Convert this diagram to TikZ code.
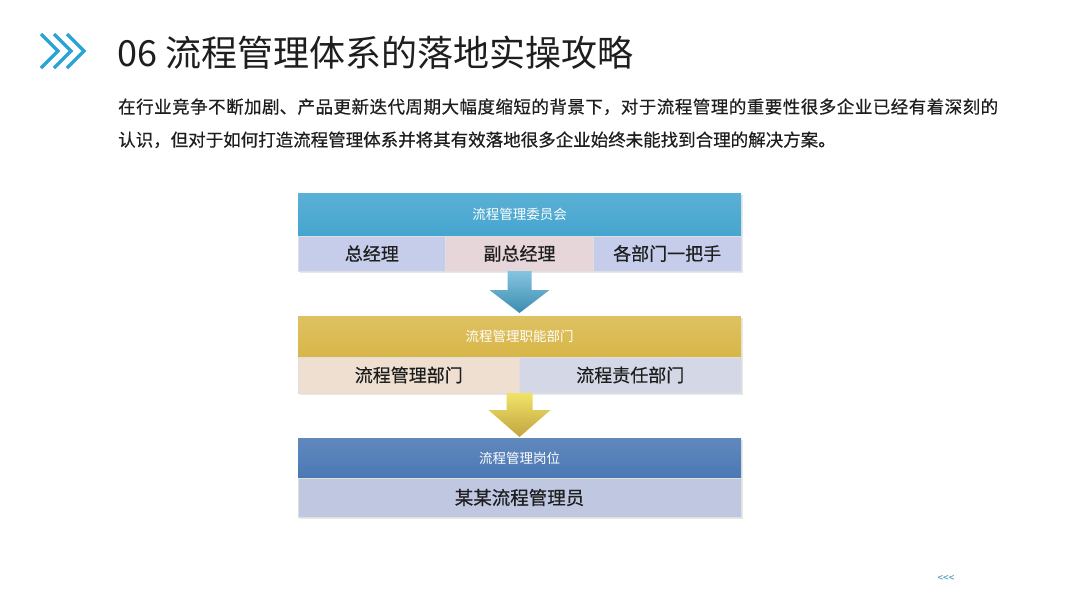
\documentclass[tikz,border=0pt]{standalone}
\usepackage{fontspec}
\setmainfont{Noto Sans CJK SC}
\newfontfamily\heavycjk[FakeBold=0.5]{Noto Sans CJK SC}
\XeTeXlinebreaklocale "zh"
\XeTeXlinebreakskip=0pt plus 2pt
\usetikzlibrary{positioning,calc,fit,backgrounds,shadows}
\definecolor{sky}{HTML}{2AA3D6}
\definecolor{cmte}{HTML}{45A5CF}
\definecolor{gold}{HTML}{D8B647}
\definecolor{steel}{HTML}{4B78B4}
\definecolor{lav}{HTML}{C6CDEA}
\definecolor{rose}{HTML}{E6D6D9}
\definecolor{peach}{HTML}{EEDFD1}
\definecolor{haze}{HTML}{D3D7E6}
\definecolor{ink}{HTML}{1E1E1E}
\tikzset{
  hdbar/.style={rectangle, minimum width=443pt, inner sep=0pt, outer sep=0pt,
                text=white, font=\fontsize{13.5}{16}\selectfont},
  cell/.style={rectangle, inner sep=0pt, outer sep=0pt, draw=white!75!gray, line width=0.4pt,
               text=ink, font=\heavycjk\fontsize{18}{21}\selectfont},
  blk/.style={rectangle, inner sep=0pt, fill=white,
              drop shadow={opacity=0.18, shadow xshift=1.5pt, shadow yshift=-1.5pt}},
  chev/.style={draw=sky, line width=3.5pt, line join=miter},
}

\begin{document}
\begin{tikzpicture}[x=1pt, y=-1pt]
  \useasboundingbox (0,0) rectangle (1080,608);
  % title and intro
  \foreach \dx in {0,13,26} \draw[chev] (41+\dx,34) -- (58+\dx,51) -- (41+\dx,68);
  \node[anchor=base west, inner sep=0pt, text=ink, font=\fontsize{36}{40}\selectfont] (title) at (117,66) {06 流程管理体系的落地实操攻略};
  \node[anchor=base west, inner sep=0pt, text width=880pt, align=justify, text=ink, font=\heavycjk\fontsize{17.5}{33}\selectfont] (intro) at (118,113.3) {在行业竞争不断加剧、产品更新迭代周期大幅度缩短的背景下，对于流程管理的重要性很多企业已经有着深刻的\linebreak 认识，但对于如何打造流程管理体系并将其有效落地很多企业始终未能找到合理的解决方案。};

  % committee
  \node[hdbar, minimum height=43pt, top color=cmte!88!white, bottom color=cmte] (wyh) at (519.5,214.5) {流程管理委员会};
  \node[cell, fill=lav, minimum width=147.67pt, minimum height=35pt, anchor=north west] (zjl) at (wyh.south west) {总经理};
  \node[cell, fill=rose, minimum width=147.67pt, minimum height=35pt, right=0pt of zjl] (fzjl) {副总经理};
  \node[cell, fill=lav, minimum width=147.67pt, minimum height=35pt, right=0pt of fzjl] (bmyb) {各部门一把手};

  % function departments
  \node[hdbar, minimum height=41pt, top color=gold!85!white, bottom color=gold] (znbm) at (519.5,336.5) {流程管理职能部门};
  \node[cell, fill=peach, minimum width=221.5pt, minimum height=36pt, anchor=north west] (glbm) at (znbm.south west) {流程管理部门};
  \node[cell, fill=haze, minimum width=221.5pt, minimum height=36pt, right=0pt of glbm] (zrbm) {流程责任部门};

  % post
  \node[hdbar, minimum height=40pt, top color=steel!88!white, bottom color=steel] (gw) at (519.5,458) {流程管理岗位};
  \node[cell, fill=lav!92!gray, minimum width=443pt, minimum height=39pt, anchor=north west, font=\heavycjk\fontsize{18.5}{22}\selectfont] (gly) at (gw.south west) {某某流程管理员};

  % arrows between the levels
  \shade[top color=cmte!65!white, bottom color=cmte!85!black]
    ($(fzjl.south)+(-12,0)$) -- ++(0,19) -- ++(-18,0) -- ($(znbm.north)+(0,-3)$)
    -- ++(30,-23) -- ++(-18,0) -- ++(0,-19) -- cycle;
  \shade[top color=gold!55!yellow!70!white, bottom color=gold!90!black]
    ($(glbm.south east)+(-13,0)$) -- ++(0,17) -- ++(-18,0) -- ($(gw.north)+(0,-1)$)
    -- ++(31,-27) -- ++(-18,0) -- ++(0,-17) -- cycle;

  \node[text=sky!85!black, font=\fontsize{10}{12}\selectfont] (more) at (946,579) {{<}{<}{<}};

  \begin{scope}[on background layer]
    \fill[white] (0,0) rectangle (1080,608);
    \node[blk, fit=(wyh)(zjl)(bmyb)] (s1) {};
    \node[blk, fit=(znbm)(glbm)(zrbm)] (s2) {};
    \node[blk, fit=(gw)(gly)] (s3) {};
  \end{scope}
\end{tikzpicture}
\end{document}
